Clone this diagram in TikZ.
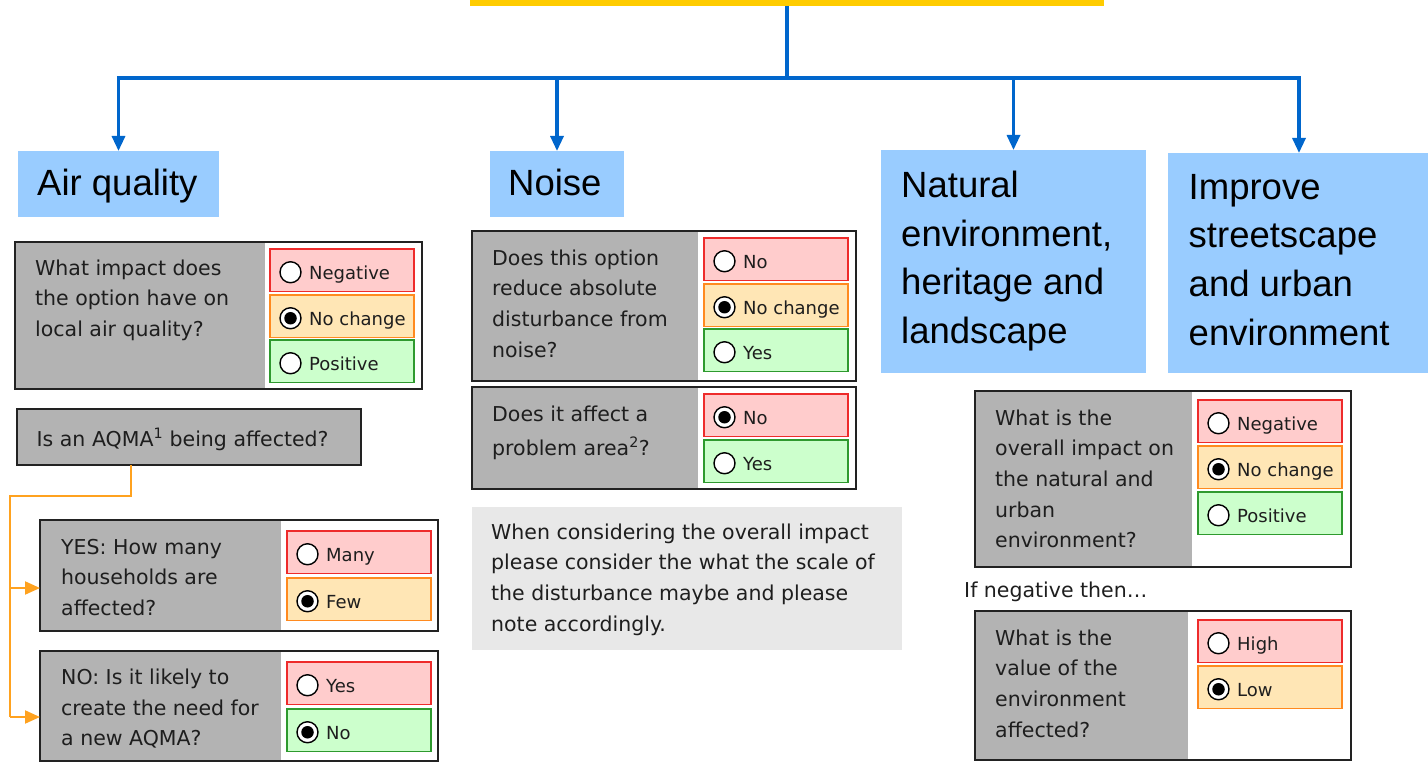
\documentclass[tikz,border=0pt]{standalone}
\usepackage{fontspec}
\setmainfont{DejaVu Sans}
\newfontfamily\hdfont{Liberation Sans}
\usetikzlibrary{arrows.meta,calc}
\definecolor{ybarc}{HTML}{FFCC00}
\definecolor{blinec}{HTML}{0066CC}
\definecolor{hblue}{HTML}{99CCFF}
\definecolor{qgray}{HTML}{B3B3B3}
\definecolor{notegray}{HTML}{E8E8E8}
\definecolor{redf}{HTML}{FFCCCC}
\definecolor{redb}{HTML}{EE2B2B}
\definecolor{orf}{HTML}{FFE6B5}
\definecolor{orb}{HTML}{FF8A1F}
\definecolor{grf}{HTML}{CCFFCC}
\definecolor{grb}{HTML}{2E9A2E}
\definecolor{olinec}{HTML}{FFA21F}
\definecolor{txtc}{HTML}{1E1E1E}
\definecolor{framec}{HTML}{222222}
\tikzset{
  rectn/.style={anchor=north west, inner sep=0pt, outer sep=0pt},
  qtxt/.style={inner sep=0pt, anchor=base west, align=left, text=txtc,
    font=\fontsize{20.5}{30.7}\selectfont},
  otxt/.style={inner sep=0pt, anchor=base west, text=txtc,
    font=\fontsize{18}{21}\selectfont},
  htxt/.style={inner sep=0pt, anchor=base west, align=left, text=black,
    font=\hdfont\fontsize{36.5}{48.7}\selectfont},
  optb/.style={rectn, minimum width=144, minimum height=42.5, line width=1.6pt},
  negk/.style={fill=redf, draw=redb},
  neuk/.style={fill=orf, draw=orb},
  posk/.style={fill=grf, draw=grb},
  radio/.style={circle, draw=black, line width=1.4pt, fill=white, minimum size=21, inner sep=0pt},
  rdot/.style={circle, fill=black, minimum size=12.5, inner sep=0pt},
  blueln/.style={draw=blinec, line width=3.6pt},
  bluearr/.style={draw=blinec, line width=3.2pt, -{Triangle[length=15pt,width=13pt]}},
  orln/.style={draw=olinec, line width=2pt},
  orarr/.style={draw=olinec, line width=2pt, -{Triangle[length=15pt,width=13pt]}},
}
% name, x1, y1, x2, y2, xsplit
\newcommand\qframe[6]{%
  \node[rectn, fill=qgray, minimum width={#6-#2}, minimum height={#5-#3}] (#1g) at (#2,#3) {};
  \node[rectn, draw=framec, line width=2pt, minimum width={#4-#2}, minimum height={#5-#3}] (#1) at (#2,#3) {};
}
% name, x, y, kind, label, selected
\newcommand\optn[6]{%
  \node[optb, #4] (#1) at (#2,#3) {};
  \node[radio] (#1r) at ($(#1.west)+(20.5,2)$) {};
  \ifnum#6=1 \node[rdot] (#1d) at (#1r) {};\fi
  \node[otxt] (#1t) at ($(#1.west)+(39,9.5)$) {#5};
}
\begin{document}
\begin{tikzpicture}[x=1pt,y=-1pt]
\useasboundingbox (0,0) rectangle (1428,762);

% top bar
\node[rectn, fill=ybarc, minimum width=634, minimum height=16] (ybar) at (470,-10) {};

% headers (multi-line text: base anchor = last line's baseline)
\node[rectn, fill=hblue, minimum width=201, minimum height=66] (aqhead) at (18,151) {};
\node[htxt] (aqheadt) at (37,196) {Air quality};
\node[rectn, fill=hblue, minimum width=134, minimum height=66] (noisehead) at (490,151) {};
\node[htxt] (noiseheadt) at (508,196) {Noise};
\node[rectn, fill=hblue, minimum width=265, minimum height=223] (nathead) at (881,150) {};
\node[htxt] (natheadt) at (901,343.6) {Natural\\environment,\\heritage and\\landscape};
\node[rectn, fill=hblue, minimum width=262, minimum height=220] (imphead) at (1168,153) {};
\node[htxt] (impheadt) at (1188.5,345.1) {Improve\\streetscape\\and urban\\environment};

% blue connectors
\coordinate (hub) at (787,78);
\draw[blueln] (ybar.south) -- (hub);
\draw[blueln] ([xshift=-1.6pt]aqhead.north |- hub) -- ([xshift=1.6pt]imphead.north |- hub);
\draw[bluearr] (aqhead.north |- hub) -- (aqhead.north);
\draw[bluearr] (noisehead.north |- hub) -- (noisehead.north);
\draw[bluearr] (nathead.north |- hub) -- (nathead.north);
\draw[bluearr] (imphead.north |- hub) -- (imphead.north);

% Air quality
\qframe{aqbox}{15}{242}{422}{389}{265}
\node[qtxt] (aqboxt) at (35,336.4) {What impact does\\the option have on\\local air quality?};
\optn{aqneg}{270}{249}{negk}{Negative}{0}
\optn{aqneu}{270}{295}{neuk}{No change}{1}
\optn{aqpos}{270}{340}{posk}{Positive}{0}

\node[rectn, fill=qgray, draw=framec, line width=2pt, minimum width=344, minimum height=56] (aqma) at (17,409) {};
\node[qtxt] (aqmat) at (36.5,446.5) {Is an AQMA\textsuperscript{1} being affected?};

\qframe{yesbox}{40}{520}{438}{631}{281}
\node[qtxt] (yesboxt) at (61,615.4) {YES: How many\\households are\\affected?};
\optn{yesmany}{287}{531}{negk}{Many}{0}
\optn{yesfew}{287}{578}{neuk}{Few}{1}

\qframe{nobox}{40}{651}{438}{761}{281}
\node[qtxt] (noboxt) at (61,745.9) {NO: Is it likely to\\create the need for\\a new AQMA?};
\optn{noyes}{287}{662}{negk}{Yes}{0}
\optn{nono}{287}{709}{posk}{No}{1}

% orange connectors
\coordinate (oj1) at (131,496);
\coordinate (oj2) at (10,496);
\coordinate (yesin) at (40,588);
\coordinate (noin) at (40,717);
\draw[orln] (aqma.south -| oj1) -- (oj1) -- (oj2) -- (oj2 |- noin);
\draw[orarr] (oj2 |- yesin) -- (yesbox.west |- yesin);
\draw[orarr] (oj2 |- noin) -- (nobox.west |- noin);

% Noise
\qframe{nzbox}{472}{231}{856}{381}{698}
\node[qtxt] (nzboxt) at (492,357.1) {Does this option\\reduce absolute\\disturbance from\\noise?};
\optn{nzno}{704}{238}{negk}{No}{0}
\optn{nzneu}{704}{284}{neuk}{No change}{1}
\optn{nzyes}{704}{329}{posk}{Yes}{0}

\qframe{pabox}{472}{387}{856}{489}{698}
\node[qtxt, font=\fontsize{20.5}{33.5}\selectfont] (paboxt) at (492,455) {Does it affect a\\problem area\textsuperscript{2}?};
\optn{pano}{704}{394}{negk}{No}{1}
\optn{payes}{704}{440}{posk}{Yes}{0}

\node[rectn, fill=notegray, minimum width=430, minimum height=143] (note) at (472,507) {};
\node[qtxt] (notet) at (491,631.1) {When considering the overall impact\\please consider the what the scale of\\the disturbance maybe and please\\note accordingly.};

% Natural environment
\qframe{nebox}{975}{391}{1351}{567}{1192}
\node[qtxt] (neboxt) at (995,547.8) {What is the\\overall impact on\\the natural and\\urban\\environment?};
\optn{neneg}{1198}{400}{negk}{Negative}{0}
\optn{neneu}{1198}{446}{neuk}{No change}{1}
\optn{nepos}{1198}{492}{posk}{Positive}{0}

\node[qtxt] (ifneg) at (964,597) {If negative then…};

\qframe{vabox}{975}{611}{1351}{760}{1188}
\node[qtxt] (vaboxt) at (995,737.1) {What is the\\value of the\\environment\\affected?};
\optn{vahigh}{1198}{620}{negk}{High}{0}
\optn{valow}{1198}{666}{neuk}{Low}{1}
\end{tikzpicture}
\end{document}
